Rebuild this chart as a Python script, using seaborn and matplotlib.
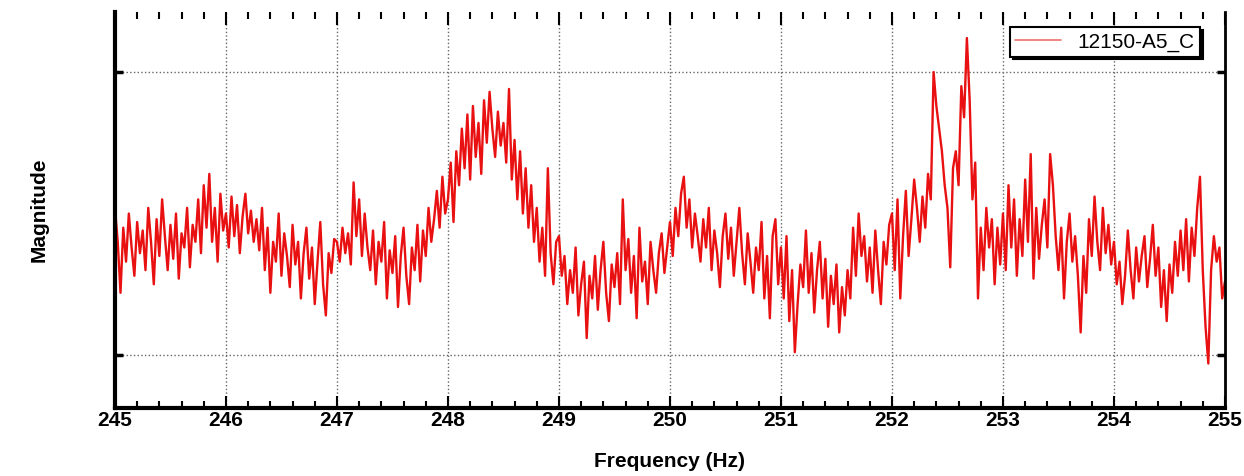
import numpy as np
import pandas as pd
import matplotlib
matplotlib.use("Agg")
import matplotlib.pyplot as plt
from matplotlib.ticker import MultipleLocator
import seaborn as sns

# magnitude, one list per Hz (0.025 Hz steps), arbitrary units
mag_245 = [0.52, 0.40, 0.22, 0.45, 0.33, 0.50, 0.38, 0.28, 0.47, 0.36,
           0.44, 0.30, 0.52, 0.40, 0.25, 0.48, 0.35, 0.55, 0.42, 0.30,
           0.46, 0.34, 0.50, 0.27, 0.43, 0.38, 0.52, 0.31, 0.46, 0.40,
           0.55, 0.36, 0.60, 0.45, 0.64, 0.40, 0.52, 0.33, 0.57, 0.44]
mag_246 = [0.50, 0.38, 0.56, 0.42, 0.53, 0.36, 0.49, 0.57, 0.43, 0.51,
           0.40, 0.48, 0.37, 0.52, 0.30, 0.45, 0.22, 0.40, 0.33, 0.50,
           0.28, 0.43, 0.35, 0.24, 0.46, 0.32, 0.40, 0.20, 0.36, 0.45,
           0.27, 0.38, 0.18, 0.33, 0.47, 0.25, 0.14, 0.36, 0.29, 0.41]
mag_247 = [0.40, 0.33, 0.45, 0.36, 0.43, 0.32, 0.61, 0.42, 0.55, 0.35,
           0.50, 0.38, 0.30, 0.44, 0.25, 0.40, 0.33, 0.47, 0.20, 0.37,
           0.29, 0.42, 0.17, 0.35, 0.45, 0.28, 0.18, 0.38, 0.30, 0.46,
           0.26, 0.44, 0.35, 0.52, 0.40, 0.48, 0.58, 0.45, 0.63, 0.50]
mag_248 = [0.55, 0.68, 0.47, 0.72, 0.60, 0.80, 0.66, 0.85, 0.62, 0.88,
           0.70, 0.82, 0.64, 0.90, 0.75, 0.93, 0.80, 0.70, 0.86, 0.74,
           0.82, 0.68, 0.94, 0.62, 0.76, 0.55, 0.72, 0.50, 0.66, 0.45,
           0.60, 0.40, 0.52, 0.33, 0.45, 0.28, 0.66, 0.36, 0.25, 0.40]
mag_249 = [0.42, 0.28, 0.35, 0.18, 0.30, 0.22, 0.38, 0.14, 0.25, 0.33,
           0.06, 0.28, 0.20, 0.35, 0.16, 0.30, 0.40, 0.22, 0.12, 0.32,
           0.24, 0.36, 0.18, 0.55, 0.30, 0.41, 0.22, 0.35, 0.13, 0.45,
           0.26, 0.33, 0.18, 0.40, 0.30, 0.22, 0.36, 0.43, 0.29, 0.38]
mag_250 = [0.47, 0.35, 0.52, 0.42, 0.57, 0.63, 0.45, 0.55, 0.38, 0.50,
           0.42, 0.33, 0.48, 0.38, 0.52, 0.30, 0.44, 0.36, 0.24, 0.42,
           0.50, 0.34, 0.45, 0.28, 0.40, 0.52, 0.36, 0.25, 0.43, 0.33,
           0.22, 0.38, 0.30, 0.47, 0.20, 0.35, 0.13, 0.42, 0.48, 0.25]
mag_251 = [0.38, 0.20, 0.42, 0.12, 0.30, 0.01, 0.18, 0.32, 0.24, 0.44,
           0.22, 0.36, 0.15, 0.30, 0.40, 0.20, 0.34, 0.10, 0.28, 0.18,
           0.32, 0.08, 0.24, 0.14, 0.30, 0.20, 0.45, 0.28, 0.50, 0.35,
           0.42, 0.26, 0.38, 0.22, 0.44, 0.30, 0.18, 0.40, 0.32, 0.46]
mag_252 = [0.50, 0.30, 0.55, 0.20, 0.42, 0.58, 0.35, 0.48, 0.62, 0.52,
           0.40, 0.56, 0.45, 0.64, 0.55, 1.00, 0.88, 0.80, 0.72, 0.60,
           0.52, 0.31, 0.66, 0.72, 0.60, 0.95, 0.84, 1.12, 0.90, 0.55,
           0.68, 0.20, 0.45, 0.30, 0.52, 0.38, 0.48, 0.25, 0.45, 0.32]
mag_253 = [0.50, 0.30, 0.60, 0.38, 0.55, 0.28, 0.48, 0.35, 0.62, 0.40,
           0.71, 0.27, 0.52, 0.34, 0.46, 0.55, 0.38, 0.71, 0.60, 0.42,
           0.30, 0.45, 0.20, 0.40, 0.50, 0.33, 0.42, 0.28, 0.08, 0.35,
           0.22, 0.48, 0.35, 0.56, 0.40, 0.30, 0.52, 0.36, 0.46, 0.32]
mag_254 = [0.40, 0.25, 0.33, 0.18, 0.28, 0.44, 0.30, 0.20, 0.38, 0.26,
           0.35, 0.42, 0.24, 0.34, 0.46, 0.28, 0.38, 0.17, 0.30, 0.12,
           0.32, 0.22, 0.40, 0.28, 0.44, 0.30, 0.48, 0.26, 0.45, 0.35,
           0.52, 0.63, 0.30, 0.10, -0.03, 0.30, 0.42, 0.33, 0.38, 0.20]
mag_255 = [0.26]

magnitude = (mag_245 + mag_246 + mag_247 + mag_248 + mag_249 + mag_250
             + mag_251 + mag_252 + mag_253 + mag_254 + mag_255)
frequency = np.linspace(245, 255, len(magnitude))
x_ticks = list(range(245, 256))
series_name = "12150-A5_C"

df = pd.DataFrame({"Frequency": frequency, "Magnitude": magnitude})

sns.set_style("white")
plt.rcParams["font.family"] = ["Liberation Sans", "DejaVu Sans"]
plt.rcParams["text.color"] = "black"
plt.rcParams["axes.labelcolor"] = "black"

fig = plt.figure(figsize=(12.44, 4.76), dpi=100)
ax = fig.add_axes([0.0924, 0.1429, 0.8923, 0.8319])

sns.lineplot(data=df, x="Frequency", y="Magnitude", ax=ax, color="#e81010",
             linewidth=1.7, estimator=None, sort=False, label=series_name)

ax.set_xlim(245, 255)
ax.set_ylim(-0.187, 1.212)
ax.set_xticks(x_ticks)
ax.set_xticklabels([str(t) for t in x_ticks], fontweight="bold", fontsize=15)
ax.xaxis.set_minor_locator(MultipleLocator(0.2))
ax.set_yticks([0, 1])
ax.set_yticklabels([])

ax.tick_params(axis="x", which="major", direction="in", top=True, bottom=True,
               length=9, width=1.5, pad=2, colors="black")
ax.tick_params(axis="x", which="minor", direction="in", top=True, bottom=True,
               length=5, width=1.5, colors="black")
ax.tick_params(axis="y", which="major", direction="in", left=True, right=True,
               length=6, width=2.5, colors="black")

ax.grid(True, which="major", linestyle=":", color="#666666", linewidth=1.0)

for side in ["left", "bottom"]:
    ax.spines[side].set_linewidth(3)
    ax.spines[side].set_color("black")
ax.spines["right"].set_linewidth(2)
ax.spines["right"].set_color("black")
ax.spines["top"].set_visible(False)

ax.set_xlabel("Frequency (Hz)", fontweight="bold", fontsize=15, labelpad=16)
ax.set_ylabel("Magnitude", fontweight="bold", fontsize=15, labelpad=44)

leg = ax.legend(loc="upper right", bbox_to_anchor=(0.9775, 0.962),
                borderaxespad=0, fancybox=False, framealpha=1,
                edgecolor="black", fontsize=15, handlelength=2.2,
                borderpad=0.25, shadow={"color": "black", "alpha": 1})
leg.get_frame().set_linewidth(1.5)
for text in leg.get_texts():
    text.set_color("black")
for line in leg.get_lines():
    line.set_linewidth(1.2)
    line.set_color("#f07070")

fig.savefig("out.png", dpi=100)
